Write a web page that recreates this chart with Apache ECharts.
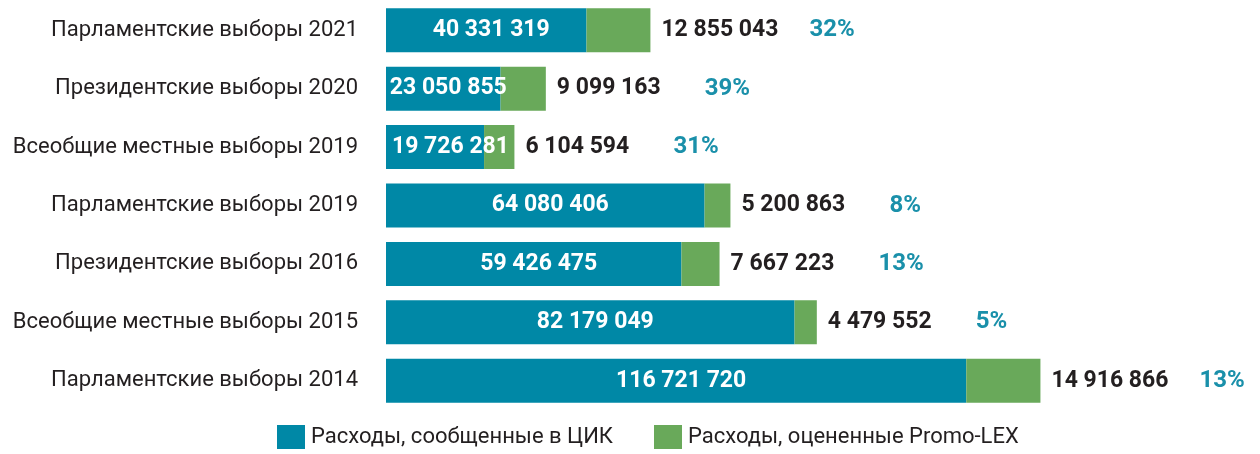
<!DOCTYPE html>
<html>
<head>
<meta charset="utf-8">
<script src="https://cdn.jsdelivr.net/npm/echarts@6/dist/echarts.min.js"></script>
<style>
  html, body { margin: 0; padding: 0; background: #ffffff; }
  #chart { width: 1260px; height: 454px; }
</style>
</head>
<body>
<div id="chart"></div>
<script>
// Election campaign spending, lei
const categories = [
  'Парламентские выборы 2021',
  'Президентские выборы 2020',
  'Всеобщие местные выборы 2019',
  'Парламентские выборы 2019',
  'Президентские выборы 2016',
  'Всеобщие местные выборы 2015',
  'Парламентские выборы 2014'
];
const reportedCIK = [40331319, 23050855, 19726281, 64080406, 59426475, 82179049, 116721720];
const estimatedPromoLex = [12855043, 9099163, 6104594, 5200863, 7667223, 4479552, 14916866];
const shareLabels = ['32%', '39%', '31%', '8%', '13%', '5%', '13%'];
const seriesNames = ['Расходы, сообщенные в ЦИК', 'Расходы, оцененные Promo-LEX'];

const BLUE = '#0088a6';
const GREEN = '#69a95a';
const TEAL = '#1a90aa';
const INK = '#231f20';
const FONT = 'Roboto';

function fmt(n) {
  return String(n).replace(/\B(?=(\d{3})+(?!\d))/g, ' ');
}

const chart = echarts.init(document.getElementById('chart'));

chart.setOption({
  animation: false,
  textStyle: { fontFamily: FONT },
  grid: { left: 386, right: 178, top: 1, bottom: 44 },
  xAxis: {
    type: 'value', min: 0, max: 140000000,
    show: false
  },
  yAxis: {
    type: 'category',
    data: categories,
    inverse: true,
    axisLine: { show: false },
    axisTick: { show: false },
    axisLabel: { color: INK, fontSize: 22, margin: 28, fontFamily: FONT }
  },
  legend: {
    left: 272, bottom: 0,
    icon: 'rect',
    itemWidth: 28, itemHeight: 24, itemGap: 41,
    textStyle: { color: INK, fontSize: 22, fontFamily: FONT, padding: [0, 0, 0, 1] },
    data: seriesNames
  },
  series: [
    {
      name: seriesNames[0],
      type: 'bar', stack: 'total', barWidth: 44,
      itemStyle: { color: BLUE },
      label: {
        show: true, position: 'inside', offset: [5, 0],
        color: '#ffffff', fontWeight: 'bold', fontSize: 23, fontFamily: FONT,
        formatter: p => fmt(p.value)
      },
      data: reportedCIK.map(v => v < 22000000
        ? { value: v, label: { position: 'insideLeft', distance: 6, offset: [0, 0] } }
        : v)
    },
    {
      name: seriesNames[1],
      type: 'bar', stack: 'total', barWidth: 44,
      itemStyle: { color: GREEN },
      label: {
        show: true, position: 'right', distance: 11,
        formatter: p => '{v|' + fmt(p.value) + '}{p|' + shareLabels[p.dataIndex] + '}',
        rich: {
          v: { width: 148, color: INK, fontWeight: 'bold', fontSize: 23, fontFamily: FONT },
          p: { color: TEAL, fontWeight: 'bold', fontSize: 24, fontFamily: FONT }
        }
      },
      data: estimatedPromoLex
    }
  ]
});
</script>
</body>
</html>
